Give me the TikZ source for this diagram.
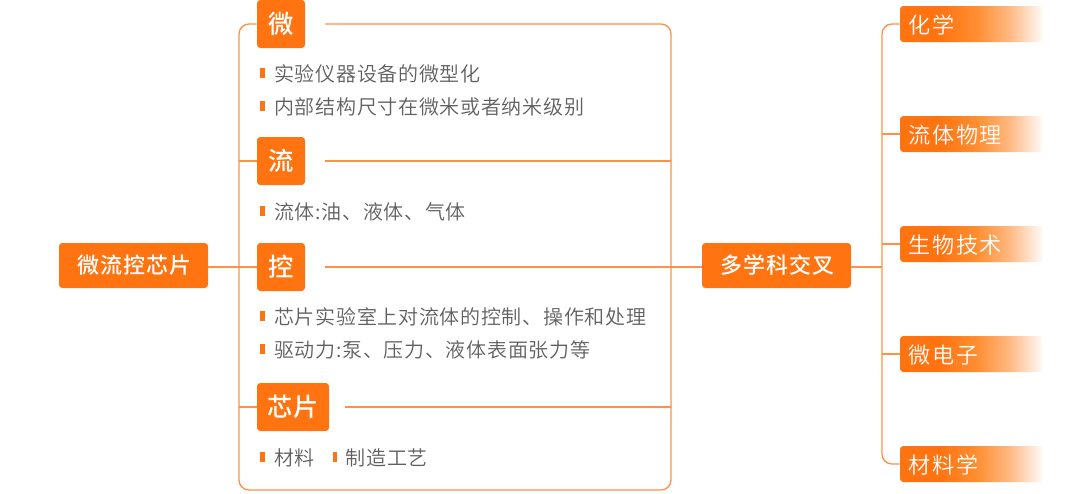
\documentclass[tikz,border=0pt]{standalone}
\usepackage{fontspec}
\setmainfont{Noto Sans CJK SC}
\newfontfamily\bodyfont[LetterSpace=3.5]{Noto Sans CJK SC DemiLight}
\newfontfamily\rightfont[LetterSpace=7]{Noto Sans CJK SC DemiLight}
\newfontfamily\hubfont[LetterSpace=4.5]{Noto Sans CJK SC Medium}
\newfontfamily\headfont[LetterSpace=1]{Noto Sans CJK SC Medium}
\definecolor{boxorange}{HTML}{FF7411}
\definecolor{lineorange}{HTML}{FF9048}
\definecolor{bodygray}{HTML}{5F5F5F}
\pgfdeclarehorizontalshading{fadebox}{100bp}{rgb(0bp)=(1,0.455,0.067); rgb(39bp)=(1,0.455,0.067); rgb(52bp)=(1,0.56,0.2); rgb(63bp)=(1,0.72,0.5); rgb(75.5bp)=(1,1,1); rgb(100bp)=(1,1,1)}
\tikzset{
  x=0.75pt,y=-0.75pt,
  conn/.style={draw=lineorange,line width=1.0pt},
  bus/.style={conn,rounded corners=7.5pt},
  headbox/.style={fill=boxorange,rounded corners=2.5pt,text=white,inner sep=0pt,font=\headfont\fontsize{19pt}{19pt}\selectfont,minimum height=36pt},
  hubbox/.style={fill=boxorange,rounded corners=2.5pt,text=white,inner sep=0pt,font=\hubfont\fontsize{16.5pt}{16.5pt}\selectfont,minimum width=111.75pt,minimum height=33.75pt},
  fieldbox/.style={shading=fadebox,rounded corners=2.5pt,text=white,inner sep=0pt,minimum width=107.25pt,minimum height=27pt},
  fieldtext/.style={text=white,inner sep=0pt,anchor=west,font=\rightfont\fontsize{16.6pt}{16.6pt}\selectfont},
  bodytext/.style={text=bodygray,inner sep=0pt,anchor=west,font=\bodyfont\fontsize{15pt}{15pt}\selectfont},
  bulletmark/.style={fill=boxorange,inner sep=0pt,minimum width=3.4pt,minimum height=7.8pt},
}
\begin{document}
\begin{tikzpicture}
\useasboundingbox (0,0) rectangle (1080,493);
\coordinate (tl) at (239,24);
\coordinate (bl) at (239,490);
\coordinate (br) at (671,490);
\coordinate (tr) at (671,24);
\coordinate (weiend) at (325,24);
\coordinate (liuend) at (325,161);
\coordinate (kongend) at (325,267);
\coordinate (xinend) at (345,407);
\coordinate (liuright) at (671,161);
\coordinate (xinright) at (671,407);
\coordinate (liuleft) at (239,161);
\coordinate (xinleft) at (239,407);
\coordinate (busx) at (882,267);
\node[headbox,minimum width=36pt] (wei) at (281,24) {微};
\node[headbox,minimum width=36pt] (liu) at (281,161) {流};
\node[headbox,minimum width=36pt] (kong) at (281,267) {控};
\node[headbox,minimum width=54pt] (xin) at (293,407) {芯片};
\node[hubbox] (hub) at (133.5,265.5) {\hspace{1.5pt}\raisebox{-1.1pt}{微流控芯片}};
\node[hubbox] (multi) at (776.5,265.5) {\hspace{1pt}\raisebox{-1.1pt}{多学科交叉}};
\node[fieldbox] (r1) at (971.5,24) {};
\node[fieldbox] (r2) at (971.5,134) {};
\node[fieldbox] (r3) at (971.5,244) {};
\node[fieldbox] (r4) at (971.5,354) {};
\node[fieldbox] (r5) at (971.5,464) {};
\node[fieldtext] at (908.5,25) {化学};
\node[fieldtext] at (908.5,135) {流体物理};
\node[fieldtext] at (908.5,245) {生物技术};
\node[fieldtext] at (908.5,355) {微电子};
\node[fieldtext] at (908.5,465) {材料学};
\draw[bus] (wei.west) -- (tl) -- (bl) -- (br) -- (tr) -- (weiend);
\draw[conn] (liuleft) -- (liu.west);
\draw[conn] (liuend) -- (liuright);
\draw[conn] (xinleft) -- (xin.west);
\draw[conn] (xinend) -- (xinright);
\draw[conn] (hub.east |- kong.west) -- (kong.west);
\draw[conn] (kongend) -- (multi.west |- kongend);
\draw[conn] (multi.east |- busx) -- (busx);
\draw[bus] (r1.west) -| (busx) |- (r5.west);
\draw[conn] (busx |- r2.west) -- (r2.west);
\draw[conn] (busx |- r3.west) -- (r3.west);
\draw[conn] (busx |- r4.west) -- (r4.west);
\node[bulletmark] (b1) at (262.3,73) {};
\node[bodytext] (t1) at (274,74) {实验仪器设备的微型化};
\node[bulletmark] (b2) at (262.3,106) {};
\node[bodytext] (t2) at (274,107) {内部结构尺寸在微米或者纳米级别};
\node[bulletmark] (b3) at (262.3,211) {};
\node[bodytext] (t3) at (274,211.5) {流体:油、液体、气体};
\node[bulletmark] (b4) at (262.3,316) {};
\node[bodytext] (t4) at (274,317) {芯片实验室上对流体的控制、操作和处理};
\node[bulletmark] (b5) at (262.3,349) {};
\node[bodytext] (t5) at (274,350) {驱动力:泵、压力、液体表面张力等};
\node[bulletmark] (b6) at (262.3,457) {};
\node[bodytext] (t6) at (274,457.5) {材料};
\node[bulletmark] (b7) at (335,457) {};
\node[bodytext] (t7) at (345.5,457.5) {制造工艺};
\end{tikzpicture}
\end{document}
